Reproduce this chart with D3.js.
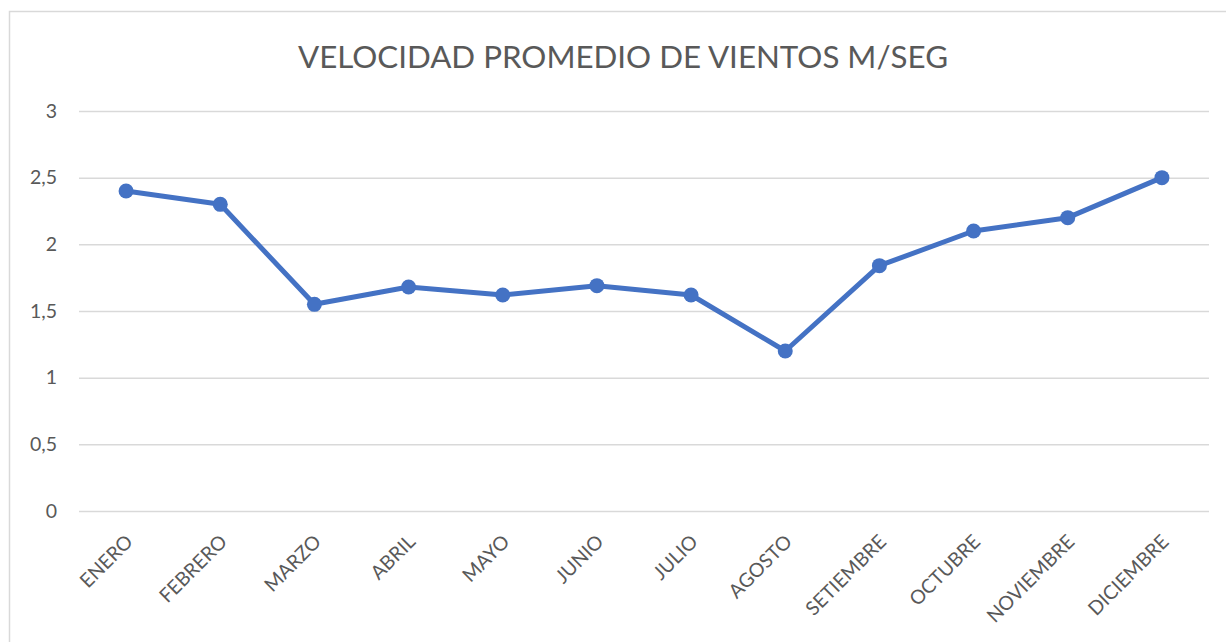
<!DOCTYPE html>
<html><head><meta charset="utf-8">
<script src="https://cdn.jsdelivr.net/npm/d3@7"></script>
<style>body{margin:0;background:#fff;} svg{display:block;}</style>
</head><body>
<script>
const title = "VELOCIDAD PROMEDIO DE VIENTOS M/SEG";
const months = ["ENERO","FEBRERO","MARZO","ABRIL","MAYO","JUNIO","JULIO","AGOSTO","SETIEMBRE","OCTUBRE","NOVIEMBRE","DICIEMBRE"];
const speeds = [2.4, 2.3, 1.55, 1.68, 1.62, 1.69, 1.62, 1.2, 1.84, 2.1, 2.2, 2.5];
const yTicks = [0, 0.5, 1, 1.5, 2, 2.5, 3];

const W = 1226, H = 642;
const font = "Lato, 'Open Sans', sans-serif";
const svg = d3.select("body").append("svg").attr("width", W).attr("height", H);
svg.append("rect").attr("width", W).attr("height", H).attr("fill", "#fff");
svg.append("rect").attr("x", 9.5).attr("y", 11.5).attr("width", 1240).attr("height", 660)
  .attr("fill", "none").attr("stroke", "#d9d9d9").attr("stroke-width", 1.5);

const x = d3.scaleBand().domain(months).range([79, 1209]);
const y = d3.scaleLinear().domain([0, 3]).range([511, 111]);

const yAxis = svg.append("g").attr("transform", "translate(79,0)")
  .call(d3.axisLeft(y).tickValues(yTicks).tickSize(-(1209 - 79)).tickPadding(22)
    .tickFormat(d => String(d).replace(".", ",")));
yAxis.select(".domain").remove();
yAxis.selectAll("line").attr("stroke", "#d9d9d9").attr("stroke-width", 1.5);
yAxis.selectAll("text").attr("fill", "#595959").style("font-family", font).style("font-size", "19.5px");

const xAxis = svg.append("g").attr("transform", "translate(0,511)")
  .call(d3.axisBottom(x).tickSize(0));
xAxis.select(".domain").remove();
xAxis.selectAll("text")
  .attr("fill", "#595959").style("font-family", font).style("font-size", "19.5px")
  .attr("text-anchor", "end").attr("dy", null).attr("y", null)
  .attr("transform", "translate(8,32) rotate(-45)");

const line = d3.line().x((d, i) => x(months[i]) + x.bandwidth() / 2).y(d => y(d));
svg.append("path").datum(speeds).attr("d", line).attr("fill", "none")
  .attr("stroke", "#4472C4").attr("stroke-width", 5).attr("stroke-linejoin", "round");
svg.selectAll("circle.pt").data(speeds).join("circle").attr("class", "pt")
  .attr("cx", (d, i) => x(months[i]) + x.bandwidth() / 2).attr("cy", d => y(d))
  .attr("r", 7.5).attr("fill", "#4472C4");

svg.append("text").attr("x", 623).attr("y", 68).attr("text-anchor", "middle")
  .attr("fill", "#595959").style("font-family", font).style("font-size", "31.3px")
  .text(title);
</script>
</body></html>
